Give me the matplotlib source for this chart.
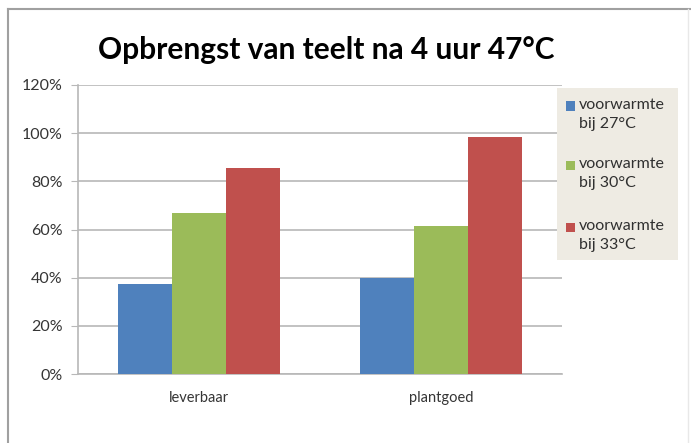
import matplotlib
matplotlib.use("Agg")
import matplotlib.pyplot as plt
from matplotlib.lines import Line2D
from matplotlib.patches import Rectangle
import numpy as np

categories = ["leverbaar", "plantgoed"]
series_names = ["voorwarmte\nbij 27°C", "voorwarmte\nbij 30°C", "voorwarmte\nbij 33°C"]
v27 = [37.5, 40.0]
v30 = [67.0, 61.5]
v33 = [85.5, 98.5]
yticks = [0, 20, 40, 60, 80, 100, 120]
title = "Opbrengst van teelt na 4 uur 47°C"

colors = ["#4f81bd", "#9bbb59", "#c0504d"]
plt.rcParams['font.family'] = ['Lato', 'DejaVu Sans']

fig = plt.figure(figsize=(6.91, 4.43), dpi=100)
W, H = 691, 443
ax = fig.add_axes([78 / W, 1 - 374 / H, 484 / W, 289 / H])

x = np.arange(len(categories))
bw = 0.223
for i, vals in enumerate([v27, v30, v33]):
    ax.bar(x + (i - 1) * bw, vals, width=bw, color=colors[i], zorder=3,
           label=series_names[i])

ax.set_xlim(-0.5, 1.5)
ax.set_ylim(0, 120)
ax.set_yticks(yticks)
ax.set_yticklabels([f"{t}%" for t in yticks])
ax.set_xticks(x)
ax.set_xticklabels(categories)
ax.yaxis.grid(True, color="#b8b8b8", linewidth=1.2, zorder=0)
for s in ["top", "right"]:
    ax.spines[s].set_visible(False)
for s in ["left", "bottom"]:
    ax.spines[s].set_color("#b8b8b8")
    ax.spines[s].set_linewidth(1.2)
ax.tick_params(axis="y", length=5, color="#b8b8b8", labelsize=11.5, labelcolor="#353535", pad=6)
ax.tick_params(axis="x", length=0, labelsize=10.5, labelcolor="#353535", pad=12)

fig.text(326 / W, 1 - 50 / H, title, ha="center", va="center",
         fontsize=21.5, fontweight="bold", color="black")

# legend (manual, marker aligned with first line of each entry)
fig.add_artist(Rectangle((557 / W, 1 - 260 / H), 121 / W, 172 / H,
                         transform=fig.transFigure, facecolor="#eeebe3",
                         edgecolor="none", zorder=1))
line1_y = [106, 165, 227]
for c, name, y in zip(colors, series_names, line1_y):
    fig.add_artist(Rectangle((566 / W, 1 - (y + 4.5) / H), 9 / W, 9 / H,
                             transform=fig.transFigure, facecolor=c,
                             edgecolor="none", zorder=2))
    fig.text(579 / W, 1 - (y - 8) / H, name, ha="left", va="top",
             fontsize=11.5, color="#303030", linespacing=1.45, zorder=3)

# outer chart border
fig.add_artist(Line2D([8 / W, 8 / W], [0, 1 - 9 / H], color="#a0a0a0", lw=1.5))
fig.add_artist(Line2D([8 / W, 1], [1 - 9 / H, 1 - 9 / H], color="#a0a0a0", lw=1.5))
fig.add_artist(Line2D([688 / W, 688 / H * 0 + 688 / W], [0, 1 - 9 / H], color="#e8e8e8", lw=1))

fig.savefig("out.png", dpi=100)
